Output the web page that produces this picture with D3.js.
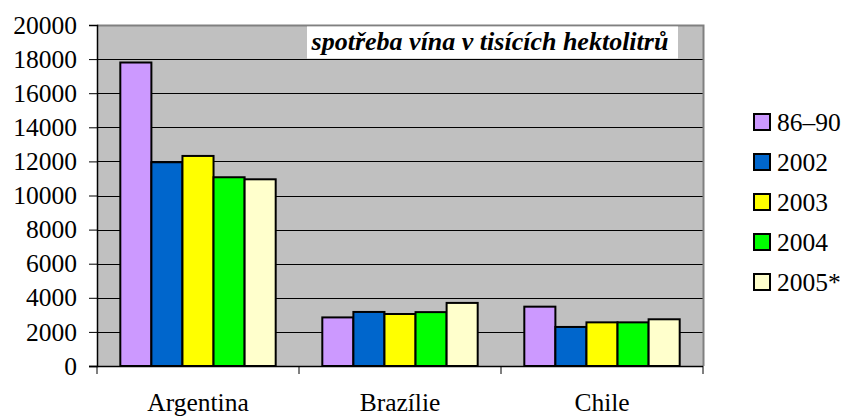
<!DOCTYPE html>
<html>
<head>
<meta charset="utf-8">
<script src="https://cdn.jsdelivr.net/npm/d3@7"></script>
<style>
body { margin: 0; background: #fff; }
text { font-family: "Liberation Serif", "Times New Roman", serif; }
</style>
</head>
<body>
<script>
// Data
var countries = ["Argentina", "Brazílie", "Chile"];
var seriesNames = ["86–90", "2002", "2003", "2004", "2005*"];
var colors = ["#CC99FF", "#0066CC", "#FFFF00", "#00FF00", "#FFFFCC"];
var v8690 = [17800, 2850, 3480];
var v2002 = [11950, 3170, 2290];
var v2003 = [12320, 3050, 2560];
var v2004 = [11070, 3160, 2560];
var v2005 = [10950, 3700, 2740];
var yTicks = [0, 2000, 4000, 6000, 8000, 10000, 12000, 14000, 16000, 18000, 20000];
var title = "spotřeba vína v tisících hektolitrů";

var allSeries = [v8690, v2002, v2003, v2004, v2005];

var W = 845, H = 417;
var pLeft = 97, pRight = 703, pTop = 25, pBottom = 366;

var svg = d3.select("body").append("svg")
	.attr("width", W)
	.attr("height", H);

var x0 = d3.scaleBand().domain(countries).range([pLeft, pRight]).paddingInner(0).paddingOuter(0);
var x1 = d3.scaleBand().domain(seriesNames).range([0, x0.bandwidth()]).paddingOuter(0.75);
var y = d3.scaleLinear().domain([0, 20000]).range([pBottom, pTop]);

// Plot area
svg.append("rect")
	.attr("x", pLeft).attr("y", pTop)
	.attr("width", pRight - pLeft).attr("height", pBottom - pTop)
	.attr("fill", "#C0C0C0");

// Gridlines
svg.append("g").selectAll("line")
	.data(yTicks.filter(function (d) { return d > 0 && d < 20000; }))
	.enter().append("line")
	.attr("x1", pLeft).attr("x2", pRight)
	.attr("y1", function (d) { return Math.round(y(d)) + 0.5; })
	.attr("y2", function (d) { return Math.round(y(d)) + 0.5; })
	.attr("stroke", "#000").attr("stroke-width", 1);

// Gray top/right border
svg.append("path")
	.attr("d", "M" + pLeft + "," + (pTop + 0.5) + "H" + (pRight + 0.5) + "V" + pBottom)
	.attr("fill", "none").attr("stroke", "#808080").attr("stroke-width", 2);

// Title box
var titleG = svg.append("g");
titleG.append("rect")
	.attr("x", 307).attr("y", pTop + 1.5)
	.attr("width", 371).attr("height", 32)
	.attr("fill", "#fff");
titleG.append("text")
	.attr("x", 490).attr("y", 50)
	.attr("text-anchor", "middle")
	.style("font-size", "26px")
	.style("font-weight", "bold")
	.style("font-style", "italic")
	.text(title);

// Bars
var groups = svg.append("g").selectAll("g")
	.data(countries)
	.enter().append("g")
	.attr("transform", function (d) { return "translate(" + x0(d) + ",0)"; });

groups.selectAll("rect")
	.data(function (d, ci) {
		return seriesNames.map(function (s, si) { return { s: s, v: allSeries[si][ci], c: colors[si] }; });
	})
	.enter().append("rect")
	.attr("x", function (d) { return x1(d.s); })
	.attr("y", function (d) { return y(d.v); })
	.attr("width", x1.bandwidth())
	.attr("height", function (d) { return pBottom - y(d.v); })
	.attr("fill", function (d) { return d.c; })
	.attr("stroke", "#000")
	.attr("stroke-width", 2);

// Y axis
var yAxis = d3.axisLeft(y).tickValues(yTicks).tickSize(8).tickPadding(12).tickFormat(d3.format("d"));
var yg = svg.append("g").attr("transform", "translate(" + pLeft + ",0)").call(yAxis);
yg.attr("font-family", null).attr("font-size", null);
yg.select(".domain").attr("stroke", "#000").attr("stroke-width", 1.5);
yg.selectAll(".tick line").attr("stroke", "#000");
yg.selectAll("text").style("font-size", "25.5px").attr("fill", "#000");

// X axis
svg.append("line")
	.attr("x1", pLeft - 8).attr("x2", pRight)
	.attr("y1", pBottom + 0.5).attr("y2", pBottom + 0.5)
	.attr("stroke", "#000").attr("stroke-width", 1.5);
var catEdges = [pLeft].concat(countries.map(function (c) { return x0(c) + x0.bandwidth(); }));
svg.append("g").selectAll("line")
	.data(catEdges)
	.enter().append("line")
	.attr("x1", function (d) { return d; }).attr("x2", function (d) { return d; })
	.attr("y1", pBottom).attr("y2", pBottom + 8)
	.attr("stroke", "#000").attr("stroke-width", 1);
svg.append("g").selectAll("text")
	.data(countries)
	.enter().append("text")
	.attr("x", function (d) { return x0(d) + x0.bandwidth() / 2; })
	.attr("y", 411)
	.attr("text-anchor", "middle")
	.style("font-size", "25.5px")
	.text(function (d) { return d; });

// Legend
var legend = svg.append("g").selectAll("g")
	.data(seriesNames)
	.enter().append("g")
	.attr("transform", function (d, i) { return "translate(754," + (122 + i * 40) + ")"; });
legend.append("rect")
	.attr("x", 0).attr("y", -8)
	.attr("width", 16).attr("height", 16)
	.attr("fill", function (d, i) { return colors[i]; })
	.attr("stroke", "#000").attr("stroke-width", 2);
legend.append("text")
	.attr("x", 23).attr("y", 9)
	.style("font-size", "25.5px")
	.text(function (d) { return d; });
</script>
</body>
</html>
